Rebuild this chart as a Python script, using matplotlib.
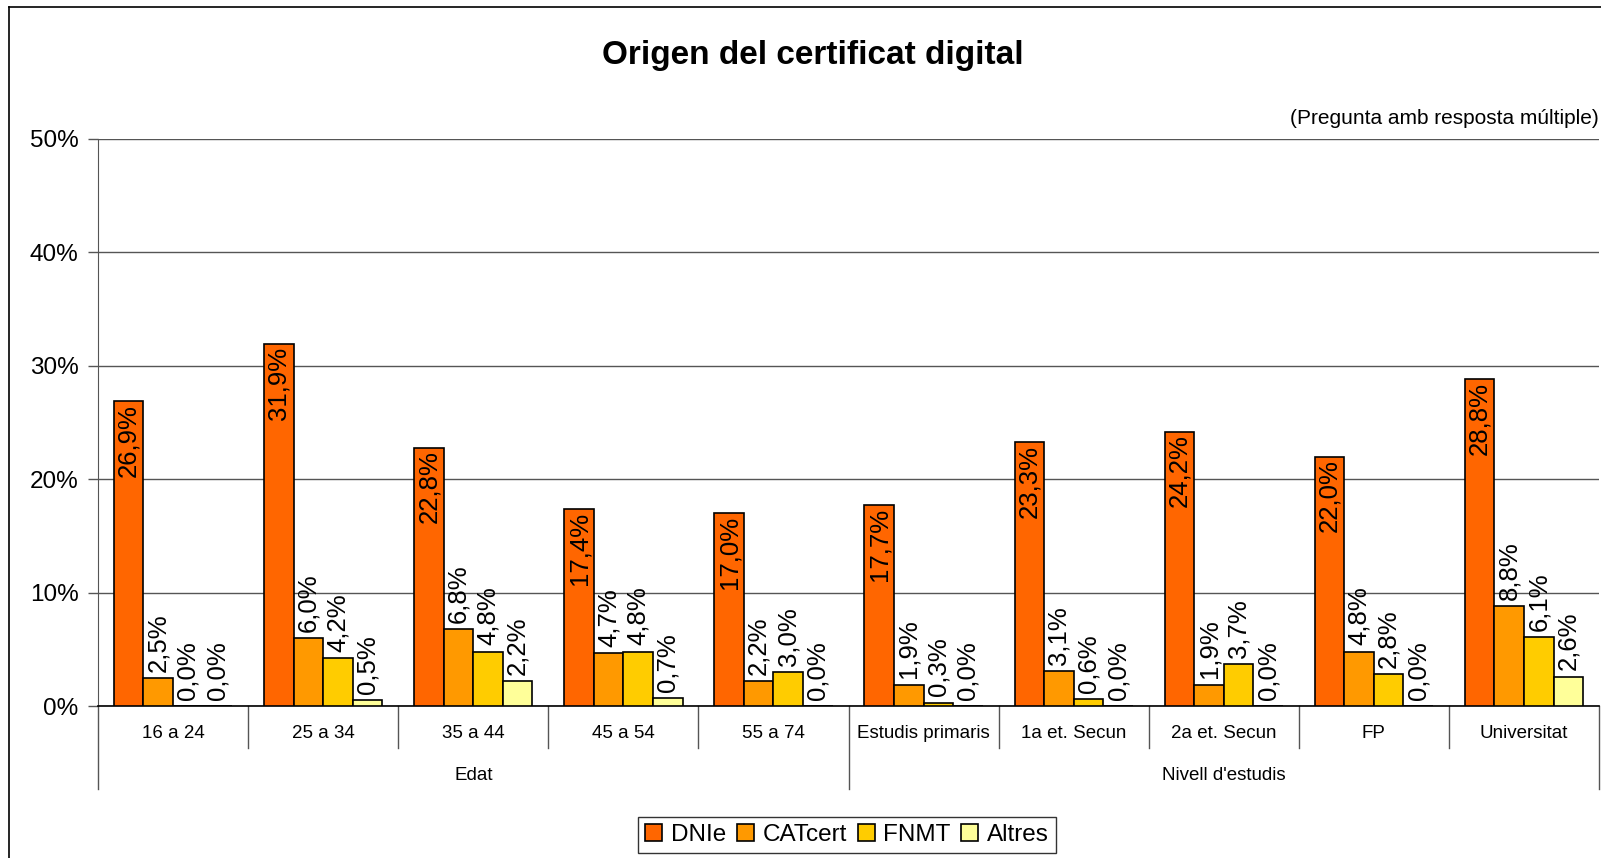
import numpy as np
import matplotlib.pyplot as plt
from matplotlib.lines import Line2D
from matplotlib.ticker import FuncFormatter

plt.rcParams['font.family'] = ['Liberation Sans', 'DejaVu Sans']

categories = ["16 a 24", "25 a 34", "35 a 44", "45 a 54", "55 a 74",
              "Estudis primaris", "1a et. Secun", "2a et. Secun", "FP", "Universitat"]
groups = ["Edat", "Nivell d'estudis"]
group_sizes = [5, 5]

series_names = ["DNIe", "CATcert", "FNMT", "Altres"]
dnie = [26.9, 31.9, 22.8, 17.4, 17.0, 17.7, 23.3, 24.2, 22.0, 28.8]
catcert = [2.5, 6.0, 6.8, 4.7, 2.2, 1.9, 3.1, 1.9, 4.8, 8.8]
fnmt = [0.0, 4.2, 4.8, 4.8, 3.0, 0.3, 0.6, 3.7, 2.8, 6.1]
altres = [0.0, 0.5, 2.2, 0.7, 0.0, 0.0, 0.0, 0.0, 0.0, 2.6]
series = [dnie, catcert, fnmt, altres]
colors = ["#FF6600", "#FF9900", "#FFCC00", "#FFFF99"]

fig = plt.figure(figsize=(16.01, 8.58), dpi=100)
ax = fig.add_axes([0.0612, 0.177, 0.9376, 0.661])

x = np.arange(len(categories))
w = 0.197
for i, (vals, col, name) in enumerate(zip(series, colors, series_names)):
    pos = x + (i - 1.5) * w
    ax.bar(pos, vals, width=w, color=col, edgecolor="black", linewidth=1.2,
           label=name, zorder=3)
    for px, v in zip(pos, vals):
        txt = f"{v:.1f}%".replace(".", ",")
        if i == 0:
            # DNIe labels sit inside the top of the bar
            ax.annotate(txt, (px, v), xytext=(0, -2), textcoords="offset points",
                        rotation=90, ha="center", va="top", fontsize=18.5, zorder=4)
        else:
            ax.annotate(txt, (px, v), xytext=(0, 4.5), textcoords="offset points",
                        rotation=90, ha="center", va="bottom", fontsize=18.5, zorder=4)

ax.set_xlim(-0.5, len(categories) - 0.5)
ax.set_ylim(0, 50)
ax.set_yticks(np.arange(0, 51, 10))
ax.yaxis.set_major_formatter(FuncFormatter(lambda v, p: f"{v:.0f}%"))
ax.tick_params(axis="y", labelsize=17.5, length=7, width=1, color="#555555", pad=7)
ax.set_xticks([])
ax.grid(axis="y", color="#555555", linewidth=1, zorder=0)
for s in ["top", "right"]:
    ax.spines[s].set_visible(False)
ax.spines["left"].set_color("#555555")
ax.spines["bottom"].set_color("black")
ax.spines["bottom"].set_linewidth(1.2)

# category labels and separators below the axis
tr = ax.get_xaxis_transform()
for xi, cat in zip(x, categories):
    ax.text(xi, -0.0476, cat, transform=tr, ha="center", va="center", fontsize=13.5)
edges = np.cumsum([0] + group_sizes) - 0.5
for b in np.arange(len(categories) + 1) - 0.5:
    low = -0.146 if b in edges else -0.074
    ax.add_line(Line2D([b, b], [0, low], transform=tr, color="#555555",
                       linewidth=1, clip_on=False))
start = 0
for g, n in zip(groups, group_sizes):
    ax.text(start + (n - 1) / 2, -0.122, g, transform=tr, ha="center",
            va="center", fontsize=13.5)
    start += n

fig.text(0.508, 0.935, "Origen del certificat digital", ha="center", va="center",
         fontsize=24, fontweight="bold")
fig.text(0.9988, 0.862, "(Pregunta amb resposta múltiple)", ha="right",
         va="center", fontsize=15)

leg = fig.legend(loc="center", bbox_to_anchor=(0.529, 0.027), ncol=4,
                 fontsize=17.5, frameon=True, fancybox=False, handlelength=0.7,
                 handleheight=0.7, handletextpad=0.35, columnspacing=0.45,
                 borderpad=0.3, borderaxespad=0)
leg.get_frame().set_edgecolor("black")
leg.get_frame().set_linewidth(1)

# outer chart border (top and left visible)
fig.add_artist(Line2D([9 / 1601, 1.0], [1 - 7 / 858, 1 - 7 / 858], color="black", linewidth=1.2))
fig.add_artist(Line2D([9 / 1601, 9 / 1601], [0, 1 - 7 / 858], color="black", linewidth=1.2))

fig.savefig("out.png", dpi=100)
